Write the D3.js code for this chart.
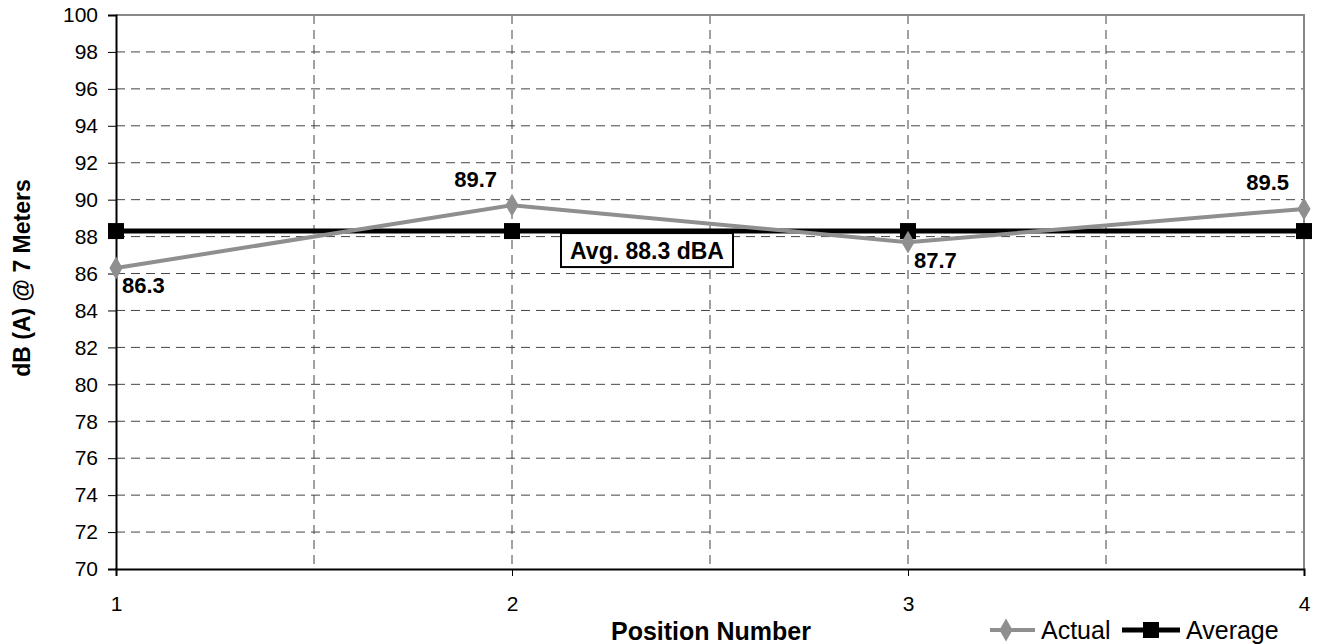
<!DOCTYPE html>
<html>
<head>
<meta charset="utf-8">
<script src="https://cdn.jsdelivr.net/npm/d3@7/dist/d3.min.js"></script>
<style>
  html, body { margin: 0; padding: 0; background: #fff; }
  svg { display: block; font-family: "Liberation Sans", Arial, sans-serif; }
</style>
</head>
<body>
<svg id="chart" width="1317" height="644"></svg>
<script>
// ---- data ----
const positions = [1, 2, 3, 4];
const actualValues = [86.3, 89.7, 87.7, 89.5];
const averageValues = [88.3, 88.3, 88.3, 88.3];
const actualLabels = ["86.3", "89.7", "87.7", "89.5"];
const labelPlacement = ["below-right", "above-left", "below-right", "above-left"];
const yTicks = [70, 72, 74, 76, 78, 80, 82, 84, 86, 88, 90, 92, 94, 96, 98, 100];
const xTicks = [1, 2, 3, 4];
const xGrid = [1.5, 2, 2.5, 3, 3.5];
const avgLabel = "Avg. 88.3 dBA";
const xTitle = "Position Number";
const yTitle = "dB (A) @ 7 Meters";
const seriesNames = ["Actual", "Average"];

// ---- layout ----
const svg = d3.select("#chart");
const pL = 116, pR = 1304, pT = 15, pB = 569;
const x = d3.scaleLinear().domain([1, 4]).range([pL, pR]);
const y = d3.scaleLinear().domain([70, 100]).range([pB, pT]);

// grid
const grid = svg.append("g").attr("stroke", "#444").attr("stroke-width", 1).attr("stroke-dasharray", "9,6");
grid.selectAll("line.h").data(yTicks.filter(t => t > 70 && t < 100)).join("line")
  .attr("x1", pL).attr("x2", pR).attr("y1", d => y(d)).attr("y2", d => y(d));
grid.selectAll("line.v").data(xGrid).join("line")
  .attr("y1", pT).attr("y2", pB).attr("x1", d => x(d)).attr("x2", d => x(d));

// border top/right (gray)
svg.append("path")
  .attr("d", `M${pL},${pT}H${pR}V${pB}`)
  .attr("fill", "none").attr("stroke", "#888").attr("stroke-width", 2);

// y axis
const yAxis = svg.append("g").attr("transform", `translate(${pL},0)`)
  .call(d3.axisLeft(y).tickValues(yTicks).tickSize(8).tickPadding(10).tickFormat(d3.format("d")));
yAxis.select(".domain").attr("stroke", "#000").attr("stroke-width", 2);
yAxis.selectAll(".tick line").attr("stroke", "#000");
yAxis.selectAll("text").attr("font-size", 21).attr("fill", "#000")
  .attr("font-family", "Liberation Sans, Arial, sans-serif");

// x axis
const xAxis = svg.append("g").attr("transform", `translate(0,${pB})`)
  .call(d3.axisBottom(x).tickValues(xTicks).tickSize(7).tickPadding(20).tickFormat(d3.format("d")));
xAxis.select(".domain").attr("stroke", "#000").attr("stroke-width", 2);
xAxis.selectAll(".tick line").attr("stroke", "#000");
xAxis.selectAll("text").attr("font-size", 21).attr("fill", "#000")
  .attr("font-family", "Liberation Sans, Arial, sans-serif");

// axis titles
svg.append("text").attr("x", 711).attr("y", 640).attr("text-anchor", "middle")
  .attr("font-size", 25).attr("font-weight", "bold").text(xTitle);
svg.append("text").attr("transform", `translate(30,${(pT + pB) / 2 - 14}) rotate(-90)`)
  .attr("text-anchor", "middle").attr("font-size", 23).attr("font-weight", "bold").text(yTitle);

// lines
const line = d3.line().x(d => x(d[0])).y(d => y(d[1]));
const avgData = positions.map((p, i) => [p, averageValues[i]]);
const actData = positions.map((p, i) => [p, actualValues[i]]);

svg.append("path").datum(avgData).attr("d", line)
  .attr("fill", "none").attr("stroke", "#000").attr("stroke-width", 5);
svg.append("path").datum(actData).attr("d", line)
  .attr("fill", "none").attr("stroke", "#8f8f8f").attr("stroke-width", 4);

const square = d3.symbol().type(d3.symbolSquare).size(256);
const diamond = d3.symbol().type(d3.symbolDiamond).size(150);

svg.selectAll("path.avgm").data(avgData).join("path")
  .attr("d", square).attr("transform", d => `translate(${x(d[0])},${y(d[1])})`).attr("fill", "#000");
svg.selectAll("path.actm").data(actData).join("path")
  .attr("d", diamond)
  .attr("transform", d => `translate(${x(d[0])},${y(d[1])})`).attr("fill", "#8f8f8f");

// data labels
svg.selectAll("text.dl").data(actData).join("text")
  .attr("font-size", 22).attr("font-weight", "bold").attr("fill", "#000")
  .attr("dominant-baseline", "central")
  .attr("text-anchor", (d, i) => labelPlacement[i] === "above-left" ? "end" : "start")
  .attr("x", (d, i) => x(d[0]) + (labelPlacement[i] === "above-left" ? -15 : 6))
  .attr("y", (d, i) => y(d[1]) + (labelPlacement[i] === "above-left" ? -26 : 18))
  .text((d, i) => actualLabels[i]);

// avg label box
const bx = x(2) + 49, by = y(averageValues[1]) + 2;
svg.append("rect").attr("x", bx).attr("y", by).attr("width", 172).attr("height", 34)
  .attr("fill", "#fff").attr("stroke", "#000").attr("stroke-width", 2);
svg.append("text").attr("x", bx + 86).attr("y", by + 18).attr("text-anchor", "middle")
  .attr("dominant-baseline", "central").attr("font-size", 23).attr("font-weight", "bold").text(avgLabel);

// legend
const lg = svg.append("g");
const ly = 630;
lg.append("line").attr("x1", 990).attr("x2", 1035).attr("y1", ly).attr("y2", ly)
  .attr("stroke", "#8f8f8f").attr("stroke-width", 4);
lg.append("path").attr("d", diamond)
  .attr("transform", `translate(1006,${ly})`).attr("fill", "#8f8f8f");
lg.append("text").attr("x", 1041).attr("y", ly).attr("dominant-baseline", "central")
  .attr("font-size", 25).text(seriesNames[0]);
lg.append("line").attr("x1", 1122).attr("x2", 1180).attr("y1", ly).attr("y2", ly)
  .attr("stroke", "#000").attr("stroke-width", 5);
lg.append("path").attr("d", square).attr("transform", `translate(1151,${ly})`).attr("fill", "#000");
lg.append("text").attr("x", 1186).attr("y", ly).attr("dominant-baseline", "central")
  .attr("font-size", 25).text(seriesNames[1]);
</script>
</body>
</html>
